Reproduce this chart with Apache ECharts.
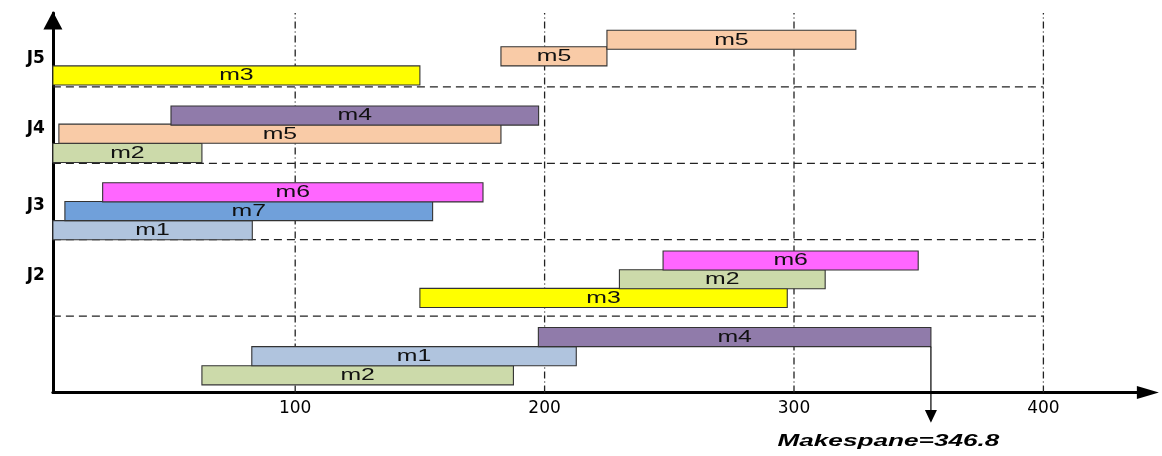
<!DOCTYPE html>
<html>
<head>
<meta charset="utf-8">
<script src="https://cdn.jsdelivr.net/npm/echarts@6/dist/echarts.min.js"></script>
<style>
html,body{margin:0;padding:0;background:#fff;}
#chart{width:1162px;height:456px;}
</style>
</head>
<body>
<div id="chart"></div>
<script>
// ---- data ----
const taskJob     = ['J5','J5','J5','J4','J4','J4','J3','J3','J3','J2','J2','J2','J1','J1','J1'];
const taskMachine = ['m3','m5','m5','m2','m5','m4','m1','m7','m6','m3','m2','m6','m2','m1','m4'];
const taskStart   = [2.85,182.5,225,2.85,5.25,50.2,2.85,7.66,22.8,150,230,247.5,62.6,82.6,197.5];
const taskEnd     = [150,225,324.8,62.6,182.5,197.6,82.8,155.1,175.3,297.3,312.5,349.8,187.5,212.7,354.9];
const taskLane    = [16.1,17.1,17.97,12.04,13.05,14.0,8.0,9.0,9.98,4.45,5.43,6.41,0.4,1.4,2.4];

const xTickLabels  = [100,200,300,400];
const jobLabels    = ['J5','J4','J3','J2'];
const jobLabelPos  = [17.47,13.81,9.78,6.10];
const separatorY   = [4,8,12,16];
const makespanText = 'Makespane=346.8';

const machineNames  = ['m1','m2','m3','m4','m5','m6','m7'];
const machineColors = ['#B0C4DE','#CCDAAA','#FFFF00','#907BAA','#F9CBA7','#FF66FF','#70A0DA'];

// ---- axis extents ----
const X_MIN = 2.85, X_MAX = 441.9, Y_MIN = 0, Y_MAX = 19.87;

const chart = echarts.init(document.getElementById('chart'), null, {renderer: 'canvas'});

const barData = taskStart.map((s, i) => [s, taskEnd[i], taskLane[i], i]);
const lastIdx = taskEnd.indexOf(Math.max(...taskEnd));
const makespanData = [[taskEnd[lastIdx], taskLane[lastIdx]]];

const option = {
  backgroundColor: '#ffffff',
  animation: false,
  grid: {left: 52.9, right: 14.1, top: 13, bottom: 63.5},
  xAxis: {
    type: 'value',
    min: X_MIN,
    max: X_MAX,
    axisLine: {
      show: true, onZero: false,
      lineStyle: {color: '#000', width: 3},
      symbol: ['none', 'triangle'],
      symbolSize: [13, 22]
    },
    axisTick: {show: false},
    splitLine: {show: false},
    axisLabel: {
      customValues: xTickLabels,
      formatter: v => String(v),
      color: '#000',
      fontFamily: '"DejaVu Sans", sans-serif',
      fontSize: 17,
      margin: 8
    }
  },
  yAxis: {
    type: 'value',
    min: Y_MIN,
    max: Y_MAX,
    axisLine: {
      show: true, onZero: false,
      lineStyle: {color: '#000', width: 3},
      symbol: ['none', 'triangle'],
      symbolSize: [19, 18],
      symbolOffset: [0, -7.5]
    },
    axisTick: {show: false},
    splitLine: {show: false},
    axisLabel: {
      customValues: jobLabelPos,
      formatter: v => {
        const k = jobLabelPos.findIndex(p => Math.abs(p - v) < 1e-6);
        return k >= 0 ? jobLabels[k] : '';
      },
      color: '#000',
      fontFamily: '"DejaVu Sans", sans-serif',
      fontWeight: 'bold',
      fontSize: 17,
      margin: 8
    }
  },
  series: [
    {
      type: 'custom',
      clip: false,
      silent: true,
      z: 1,
      data: xTickLabels.map(v => [v, Y_MAX]),
      encode: {x: 0, y: 1},
      renderItem: (params, api) => {
        const p0 = api.coord([api.value(0), Y_MIN]);
        const p1 = api.coord([api.value(0), api.value(1)]);
        return {
          type: 'line',
          shape: {x1: p0[0], y1: p0[1], x2: p1[0], y2: p1[1]},
          style: {stroke: '#222', lineWidth: 1.3, lineDash: [7, 3, 1, 3]}
        };
      }
    },
    {
      type: 'custom',
      clip: false,
      silent: true,
      z: 1,
      data: separatorY.map(y => [X_MIN, y]),
      encode: {x: 0, y: 1},
      renderItem: (params, api) => {
        const p0 = api.coord([api.value(0), api.value(1)]);
        const p1 = api.coord([xTickLabels[xTickLabels.length - 1], api.value(1)]);
        return {
          type: 'line',
          shape: {x1: p0[0], y1: p0[1], x2: p1[0], y2: p1[1]},
          style: {stroke: '#222', lineWidth: 1.2, lineDash: [8, 5]}
        };
      }
    },
    {
      type: 'custom',
      clip: false,
      z: 2,
      data: barData,
      encode: {x: [0, 1], y: 2},
      renderItem: (params, api) => {
        const s = api.value(0), e = api.value(1), lane = api.value(2);
        const i = params.dataIndex;
        const p0 = api.coord([s, lane]);
        const p1 = api.coord([e, lane + 1]);
        const x = p0[0], y = p1[1], w = p1[0] - p0[0], h = p0[1] - p1[1];
        const color = machineColors[machineNames.indexOf(taskMachine[i])];
        return {
          type: 'group',
          children: [
            {
              type: 'rect',
              shape: {x: x, y: y, width: w, height: h},
              style: {fill: color, stroke: '#333', lineWidth: 1.1}
            },
            {
              type: 'text',
              x: x + w / 2,
              y: y + h / 2 + 0.5,
              scaleX: 1.55,
              style: {
                text: taskMachine[i],
                fill: '#111',
                fontFamily: '"Liberation Sans", Arial, sans-serif',
                fontSize: 16,
                align: 'center',
                verticalAlign: 'middle'
              }
            }
          ]
        };
      }
    },
    {
      type: 'custom',
      clip: false,
      silent: true,
      z: 3,
      data: makespanData,
      encode: {x: 0, y: 1},
      renderItem: (params, api) => {
        const p = api.coord([api.value(0), api.value(1)]);
        const x = p[0], y0 = p[1];
        const tip = y0 + 76;
        return {
          type: 'group',
          children: [
            {
              type: 'line',
              shape: {x1: x, y1: y0, x2: x, y2: tip - 10},
              style: {stroke: '#000', lineWidth: 1.2}
            },
            {
              type: 'polygon',
              shape: {points: [[x - 6, tip - 12.7], [x + 6, tip - 12.7], [x, tip]]},
              style: {fill: '#000'}
            },
            {
              type: 'text',
              x: x - 42.5,
              y: tip + 18.5,
              scaleX: 1.54,
              style: {
                text: makespanText,
                fill: '#000',
                fontFamily: '"Liberation Sans", Arial, sans-serif',
                fontSize: 17,
                fontWeight: 'bold',
                fontStyle: 'italic',
                align: 'center',
                verticalAlign: 'middle'
              }
            }
          ]
        };
      }
    }
  ]
};

chart.setOption(option);
</script>
</body>
</html>
